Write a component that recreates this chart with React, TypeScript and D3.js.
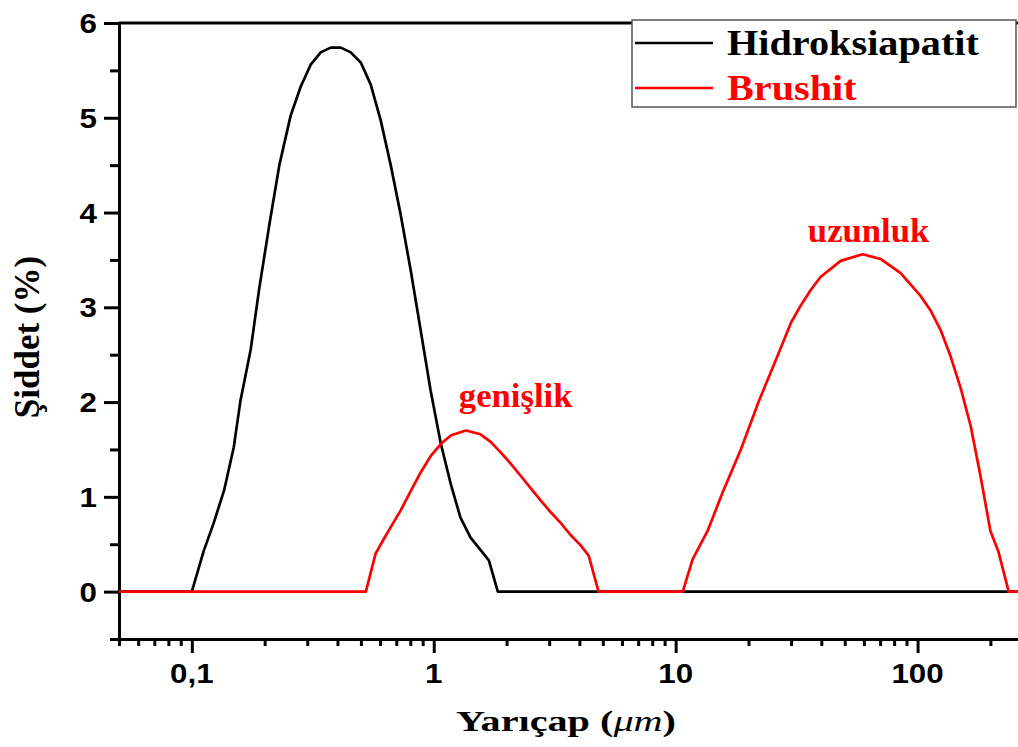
import * as d3 from 'd3';
import { useEffect, useRef } from 'react';

// Hidroksiapatit: radius (µm) and intensity (%)
const hidroksiapatitX = [0.05, 0.1, 0.112, 0.123, 0.136, 0.149, 0.159, 0.175, 0.19, 0.21, 0.23, 0.256, 0.282, 0.31, 0.341, 0.375, 0.413, 0.454, 0.5, 0.549, 0.604, 0.664, 0.731, 0.803, 0.884, 0.971, 1.07, 1.18, 1.29, 1.42, 1.56, 1.69, 1.84, 300];
const hidroksiapatitY = [0, 0, 0.43, 0.72, 1.07, 1.52, 2.02, 2.55, 3.2, 3.9, 4.5, 5.02, 5.33, 5.56, 5.69, 5.74, 5.74, 5.69, 5.58, 5.35, 4.97, 4.5, 3.97, 3.39, 2.75, 2.12, 1.56, 1.12, 0.78, 0.57, 0.44, 0.33, 0, 0];

// Brushit: radius (µm) and intensity (%)
const brushitX = [0.05, 0.524, 0.575, 0.62, 0.664, 0.731, 0.803, 0.884, 0.971, 1.07, 1.18, 1.36, 1.56, 1.72, 1.89, 2.08, 2.29, 2.52, 2.77, 3.04, 3.36, 3.67, 4.04, 4.37, 4.8, 10.7, 11.75, 13.55, 15.6, 18.6, 22.0, 26.0, 30.0, 32.9, 36.1, 39.7, 48.1, 59.3, 70.3, 85.1, 102.9, 113, 124.5, 137, 150.6, 165.7, 182, 200, 216, 238, 300];
const brushitY = [0, 0, 0.4, 0.55, 0.68, 0.86, 1.06, 1.26, 1.43, 1.56, 1.65, 1.7, 1.66, 1.58, 1.47, 1.35, 1.22, 1.09, 0.96, 0.84, 0.72, 0.6, 0.49, 0.38, 0, 0, 0.34, 0.64, 1.04, 1.5, 2.0, 2.45, 2.84, 3.02, 3.18, 3.32, 3.49, 3.56, 3.51, 3.36, 3.12, 2.97, 2.76, 2.48, 2.15, 1.75, 1.22, 0.64, 0.42, 0, 0];

const xMajorTicks = [0.1, 1, 10, 100];
const xTickLabels = ['0,1', '1', '10', '100'];
const xMinorTicks = [0.05, 0.06, 0.07, 0.08, 0.09, 0.2, 0.3, 0.4, 0.5, 0.6, 0.7, 0.8, 0.9, 2, 3, 4, 5, 6, 7, 8, 9, 20, 30, 40, 50, 60, 70, 80, 90, 200, 300];
const yMajorTicks = [0, 1, 2, 3, 4, 5, 6];
const yMinorTicks = [-0.5, 0.5, 1.5, 2.5, 3.5, 4.5, 5.5];

const seriesNames = ['Hidroksiapatit', 'Brushit'];
const seriesColors = ['#000000', '#ff0000'];

const annotations = [
  { text: 'genişlik', x: 2.18, y: 1.95 },
  { text: 'uzunluk', x: 62.7, y: 3.69 },
];

const App = () => {
  const svgRef = useRef<SVGSVGElement | null>(null);

  useEffect(() => {
    if (!svgRef.current) return;
    const width = 1018;
    const height = 747;

    const svg = d3.select(svgRef.current)
      .html('')
      .attr('width', width)
      .attr('height', height);

    svg.append('rect').attr('width', width).attr('height', height).attr('fill', '#fff');

    const xScale = d3.scaleLog().domain([0.05, 300]).range([119, 1033]);
    const yScale = d3.scaleLinear().domain([-0.5, 6]).range([639, 23]);
    const [x0, x1] = xScale.range();
    const [yBottom, yTop] = yScale.range();

    const sans = '"Liberation Sans", Arial, sans-serif';
    const serif = '"Liberation Serif", "Times New Roman", serif';

    // frame top
    svg.append('line')
      .attr('x1', x0).attr('x2', x1)
      .attr('y1', yTop).attr('y2', yTop)
      .attr('stroke', '#000').attr('stroke-width', 3);

    // X-Axis
    const styleAxis = (g: any) => {
      g.selectAll('path.domain').attr('stroke-width', 3);
      g.selectAll('.tick line').attr('stroke-width', 3);
      g.selectAll('.tick text').remove();
    };
    svg.append('g')
      .attr('transform', `translate(0,${yBottom})`)
      .call(d3.axisBottom(xScale).tickValues(xMajorTicks).tickSize(14).tickSizeOuter(0))
      .call(styleAxis);
    svg.append('g')
      .attr('transform', `translate(0,${yBottom})`)
      .call(d3.axisBottom(xScale).tickValues(xMinorTicks).tickSize(7).tickSizeOuter(0))
      .call(styleAxis)
      .call((g: any) => g.select('path.domain').remove());

    xMajorTicks.forEach((t, i) => {
      svg.append('text')
        .attr('transform', `translate(${xScale(t)},683) scale(1.12,1)`)
        .attr('text-anchor', 'middle')
        .attr('font-family', sans)
        .attr('font-weight', 'bold')
        .attr('font-size', 28)
        .text(xTickLabels[i]);
    });

    // Y-Axis
    svg.append('g')
      .attr('transform', `translate(${x0},0)`)
      .call(d3.axisLeft(yScale).tickValues(yMajorTicks).tickSize(15).tickSizeOuter(0))
      .call(styleAxis);
    svg.append('g')
      .attr('transform', `translate(${x0},0)`)
      .call(d3.axisLeft(yScale).tickValues(yMinorTicks).tickSize(9).tickSizeOuter(0))
      .call(styleAxis)
      .call((g: any) => g.select('path.domain').remove());

    yMajorTicks.forEach(t => {
      svg.append('text')
        .attr('transform', `translate(97,${yScale(t) + 10}) scale(1.12,1)`)
        .attr('text-anchor', 'end')
        .attr('font-family', sans)
        .attr('font-weight', 'bold')
        .attr('font-size', 28)
        .text(String(t));
    });

    // Axis labels
    const xLabel = svg.append('text')
      .attr('transform', `translate(566,731) scale(1.34,1)`)
      .attr('text-anchor', 'middle')
      .attr('font-family', serif)
      .attr('font-weight', 'bold')
      .attr('font-size', 30);
    xLabel.append('tspan').text('Yarıçap (');
    xLabel.append('tspan').attr('font-style', 'italic').attr('font-weight', 'normal').text('μm');
    xLabel.append('tspan').text(')');

    svg.append('text')
      .attr('transform', `translate(39,${(yTop + yBottom) / 2 + 6}) rotate(-90)`)
      .attr('text-anchor', 'middle')
      .attr('font-family', serif)
      .attr('font-weight', 'bold')
      .attr('font-size', 35)
      .text('Şiddet (%)');

    // Lines
    const line = d3.line<[number, number]>()
      .x(d => xScale(d[0]))
      .y(d => yScale(d[1]));

    const series = [
      hidroksiapatitX.map((v, i) => [v, hidroksiapatitY[i]] as [number, number]),
      brushitX.map((v, i) => [v, brushitY[i]] as [number, number]),
    ];
    series.forEach((pts, i) => {
      svg.append('path')
        .datum(pts)
        .attr('fill', 'none')
        .attr('stroke', seriesColors[i])
        .attr('stroke-width', 2.7)
        .attr('stroke-linejoin', 'round')
        .attr('d', line);
    });

    // Annotations
    annotations.forEach(a => {
      svg.append('text')
        .attr('transform', `translate(${xScale(a.x)},${yScale(a.y)}) scale(1.05,1)`)
        .attr('text-anchor', 'middle')
        .attr('font-family', serif)
        .attr('font-weight', 'bold')
        .attr('font-size', 33)
        .attr('fill', '#ff0000')
        .text(a.text);
    });

    // Legend
    const legend = svg.append('g').attr('transform', 'translate(632,20)');
    legend.append('rect')
      .attr('width', 384).attr('height', 87)
      .attr('fill', '#fff')
      .attr('stroke', '#555')
      .attr('stroke-width', 1.5);
    seriesNames.forEach((name, i) => {
      const yy = 23 + i * 45;
      legend.append('line')
        .attr('x1', 3).attr('x2', 81)
        .attr('y1', yy).attr('y2', yy)
        .attr('stroke', seriesColors[i])
        .attr('stroke-width', 2.6);
      legend.append('text')
        .attr('transform', `translate(95,${yy + 12}) scale(1.15,1)`)
        .attr('font-family', serif)
        .attr('font-weight', 'bold')
        .attr('font-size', 35)
        .attr('fill', seriesColors[i])
        .text(name);
    });
  }, []);

  return <svg ref={svgRef} style={{ position: 'absolute', left: 0, top: 0, display: 'block' }} />;
};

export default App;
